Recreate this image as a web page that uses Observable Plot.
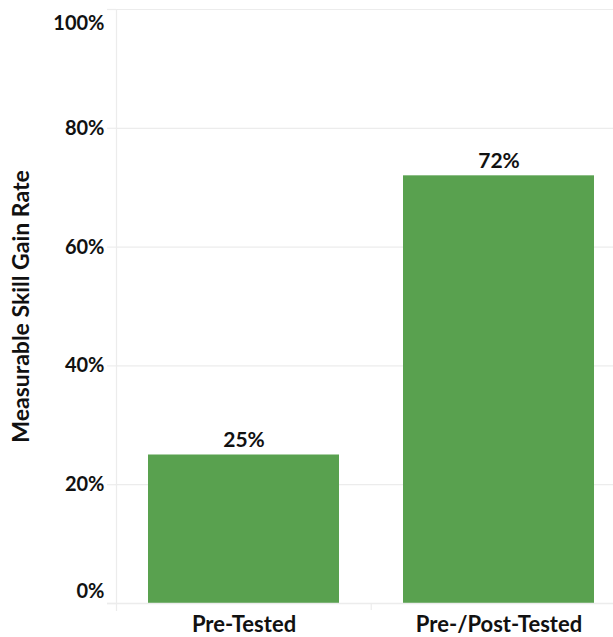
<!DOCTYPE html>
<html>
<head>
<meta charset="utf-8">
<script src="https://cdn.jsdelivr.net/npm/d3@7"></script>
<script src="https://cdn.jsdelivr.net/npm/@observablehq/plot@0.6"></script>
<style>
  html, body { margin: 0; padding: 0; background: #fff; }
  svg { display: block; }
</style>
</head>
<body>
<div id="chart"></div>
<script>
const categories = ["Pre-Tested", "Pre-/Post-Tested"];
const values = [25, 72];
const yTicks = [0, 20, 40, 60, 80, 100];
const yLabel = "Measurable Skill Gain Rate";

const data = categories.map((c, i) => ({category: c, value: values[i]}));
const font = "Lato, 'Open Sans', sans-serif";
const grid = "#ececec";
const ink = "#111";

// band geometry
const xRange = [116, 627];
const padIn = 0.25, padOut = 0.125;
const step = (xRange[1] - xRange[0]) / (categories.length - padIn + 2 * padOut);

const chart = Plot.plot({
  width: 613,
  height: 637,
  marginTop: 9,
  marginBottom: 34,
  marginLeft: 116,
  marginRight: 0,
  style: {fontFamily: font, background: "#fff"},
  x: {domain: categories, range: xRange, paddingInner: padIn, paddingOuter: padOut, label: null},
  y: {domain: [0, 100], label: null, axis: null},
  marks: [
    // gridlines across the frame
    Plot.ruleY(yTicks.filter(d => d > 0), {stroke: grid, strokeWidth: 1.2}),
    // small tick stubs left of the frame
    Plot.axisY(yTicks, {tickSize: 9, stroke: grid, strokeWidth: 1.2, tickFormat: () => "", label: null}),
    // left vertical line
    Plot.frame({anchor: "left", stroke: grid, strokeWidth: 1.2, insetBottom: -7}),
    // divider between categories below the zero line
    Plot.ruleX(categories.slice(1), {x: d => d, y1: 0, y2: 0, insetBottom: -7, dx: -step / 2, stroke: grid, strokeWidth: 1.2}),
    Plot.barY(data, {x: "category", y: "value", fill: "#59a14f"}),
    // zero line
    Plot.ruleY([0], {stroke: grid, strokeWidth: 1.5, insetLeft: -9}),
    // y tick labels
    Plot.text(yTicks.filter(d => d > 0 && d < 100), {y: d => d, frameAnchor: "left", dx: -12, textAnchor: "end", text: d => d + "%", fontSize: 20, fontWeight: "bold", fill: ink}),
    Plot.text([0], {y: d => d, frameAnchor: "left", dx: -12, dy: -6, textAnchor: "end", lineAnchor: "bottom", text: d => d + "%", fontSize: 20, fontWeight: "bold", fill: ink}),
    Plot.text([100], {y: d => d, frameAnchor: "left", dx: -12, dy: 6, textAnchor: "end", lineAnchor: "top", text: d => d + "%", fontSize: 20, fontWeight: "bold", fill: ink}),
    // value labels
    Plot.text(data, {x: "category", y: "value", text: d => d.value + "%", dy: -15, fontSize: 21, fontWeight: "bold", fill: ink}),
    // x axis labels
    Plot.axisX({tickSize: 0, tickPadding: 13, fontSize: 22, fontWeight: "bold", fill: ink}),
    // y axis title
    Plot.text([yLabel], {frameAnchor: "left", textAnchor: "middle", dx: -95, rotate: -90, text: d => d, fontSize: 23, fontWeight: "bold", fill: ink})
  ]
});
document.getElementById("chart").append(chart);
</script>
</body>
</html>
